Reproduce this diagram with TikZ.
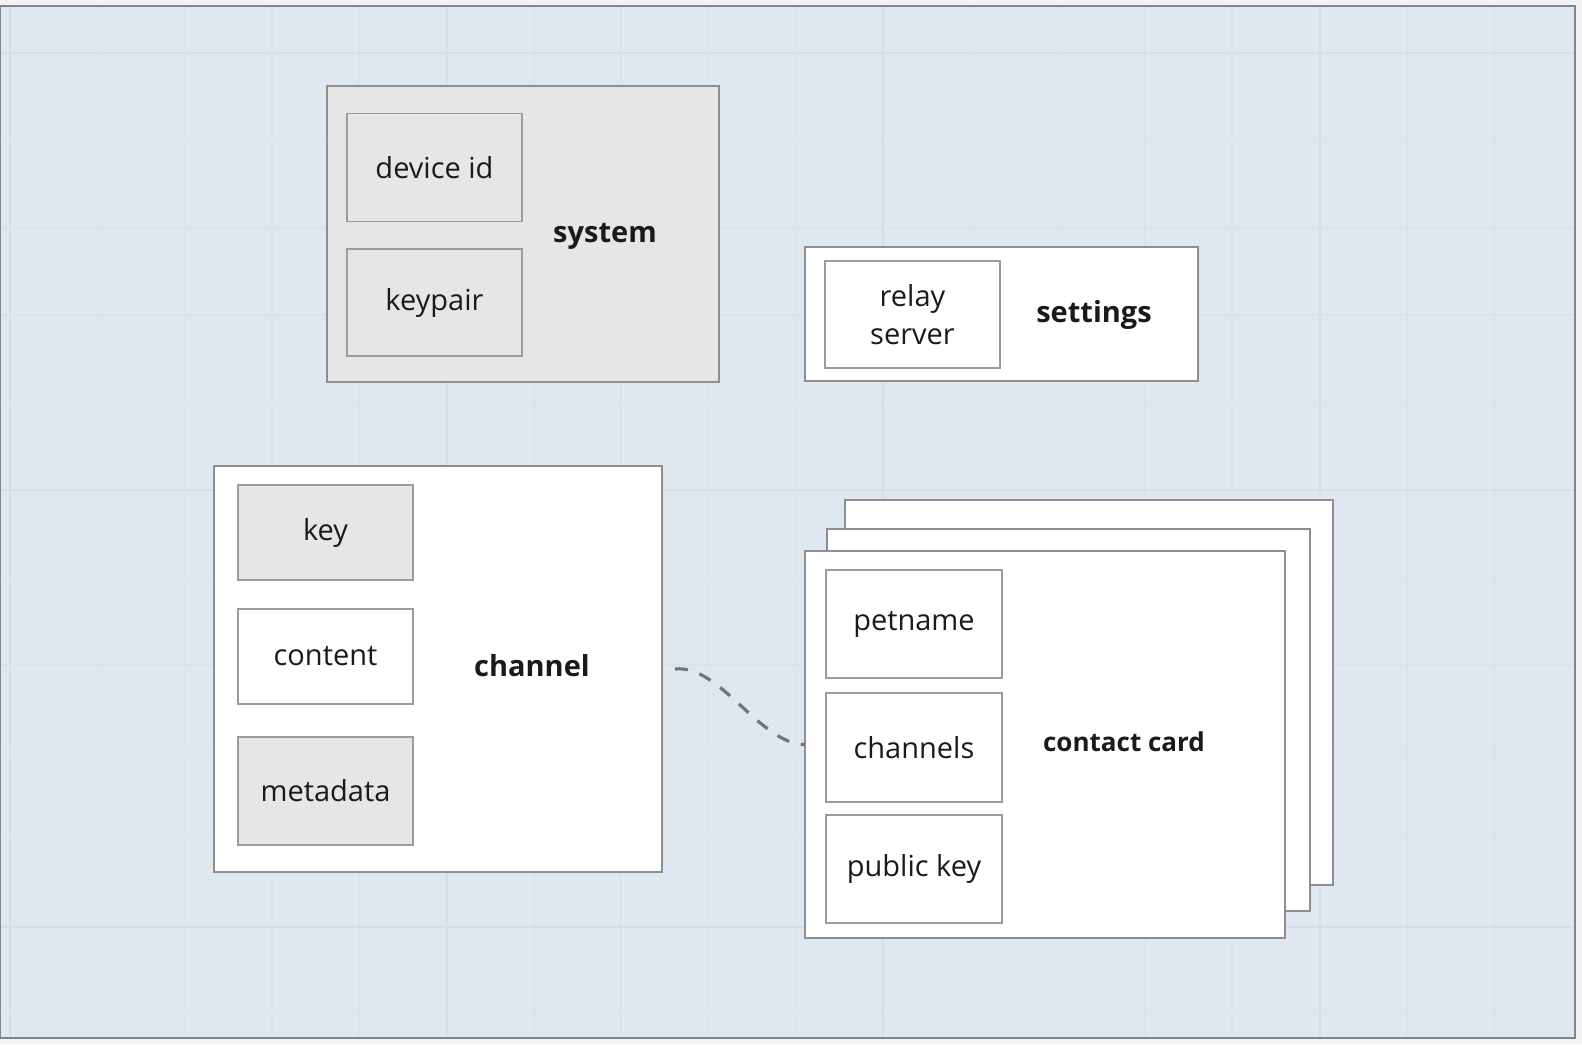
\documentclass[tikz,border=0pt]{standalone}
\usepackage{fontspec}
\setmainfont{Open Sans}
\definecolor{pagebg}{HTML}{F2F2F2}
\definecolor{canvas}{HTML}{DFE8F1}
\definecolor{gridminor}{HTML}{DAE3EC}
\definecolor{gridmajor}{HTML}{D4DEE7}
\definecolor{framecol}{HTML}{80868B}
\definecolor{boxline}{HTML}{9C9C9C}
\definecolor{outerline}{HTML}{8E8E8E}
\definecolor{grayfill}{HTML}{E6E6E6}
\definecolor{txt}{HTML}{1A1A1A}
\definecolor{conn}{HTML}{757575}
\begin{document}
\begin{tikzpicture}[x=1bp,y=-1bp,
  container/.style={draw=outerline,line width=1.4bp,inner sep=0pt,outer sep=0pt},
  field/.style={draw=boxline,line width=1.4bp,inner sep=0pt,outer sep=0pt,text=txt,
    font=\fontsize{29bp}{38bp}\selectfont,align=center},
  title/.style={text=txt,inner sep=0pt,anchor=base,font=\fontsize{29bp}{35bp}\selectfont\bfseries},
  link/.style={draw=conn,line width=3.2bp,dash pattern=on 13bp off 12bp}]
\useasboundingbox (0,0) rectangle (1582,1044);
\fill[pagebg] (0,0) rectangle (1582,1044);
\fill[canvas] (0,6) rectangle (1575,1038);
\begin{scope}
\clip (0,6) rectangle (1575,1038);
\foreach \k in {0,...,18} {
  \pgfmathsetmacro{\gx}{10+87.3*\k}
  \pgfmathtruncatemacro{\m}{mod(\k,5)}
  \ifnum\m=0 \draw[gridmajor,line width=2bp] (\gx,0) -- (\gx,1044);
  \else \draw[gridminor,line width=1.5bp] (\gx,0) -- (\gx,1044); \fi
}
\foreach \k in {0,...,11} {
  \pgfmathsetmacro{\gy}{53+87.4*\k}
  \pgfmathtruncatemacro{\m}{mod(\k,5)}
  \ifnum\m=0 \draw[gridmajor,line width=2bp] (0,\gy) -- (1582,\gy);
  \else \draw[gridminor,line width=1.5bp] (0,\gy) -- (1582,\gy); \fi
}
\end{scope}
\draw[framecol,line width=1.5bp] (0.75,6) rectangle (1575,1038);

% system
\node[container,fill=grayfill,minimum width=392bp,minimum height=296bp] (system) at (523,234) {};
\node[field,fill=grayfill,minimum width=175bp,minimum height=108bp] (devid) at (434.5,167.5) {device id};
\node[field,fill=grayfill,minimum width=175bp,minimum height=107bp] (keypair) at (434.5,302.5) {keypair};
\node[title] (systemlbl) at (605,242) {system};

% settings
\node[container,fill=white,minimum width=393bp,minimum height=134bp] (settings) at (1001.5,314) {};
\node[field,fill=white,minimum width=175bp,minimum height=107bp] (relay) at (912.5,314.5) {relay\\server};
\node[title] (settingslbl) at (1094,322) {settings};

% channel
\node[container,fill=white,minimum width=448bp,minimum height=406bp] (channel) at (438,669) {};
\node[field,fill=grayfill,minimum width=175bp,minimum height=95bp] (key) at (325.5,532.5) {key};
\node[field,fill=white,minimum width=175bp,minimum height=95bp] (content) at (325.5,656.5) {content};
\node[field,fill=grayfill,minimum width=175bp,minimum height=108bp] (metadata) at (325.5,791) {metadata};
\node[title] (channellbl) at (532,676) {channel};

% contact cards
\node[container,fill=white,minimum width=488bp,minimum height=385bp] (cardback) at (1089,692.5) {};
\node[container,fill=white,minimum width=483bp,minimum height=382bp] (cardmid) at (1068.5,720) {};
\node[container,fill=white,minimum width=480bp,minimum height=387bp] (card) at (1045,744.5) {};
\node[field,fill=white,minimum width=176bp,minimum height=108bp] (petname) at (914,624) {petname};
\node[field,fill=white,minimum width=176bp,minimum height=109bp] (channels) at (914,747.5) {channels};
\node[field,fill=white,minimum width=176bp,minimum height=108bp] (pubkey) at (914,869) {public key};
\node[title,font=\fontsize{26bp}{32bp}\selectfont\bfseries] (cardlbl) at (1124,751) {contact card};

% connector
\coordinate (linkstart) at ([xshift=13bp]channel.east);
\draw[link] (linkstart) .. controls +(45bp,5bp) and +(-45bp,0bp) .. (card.west);
\end{tikzpicture}
\end{document}
